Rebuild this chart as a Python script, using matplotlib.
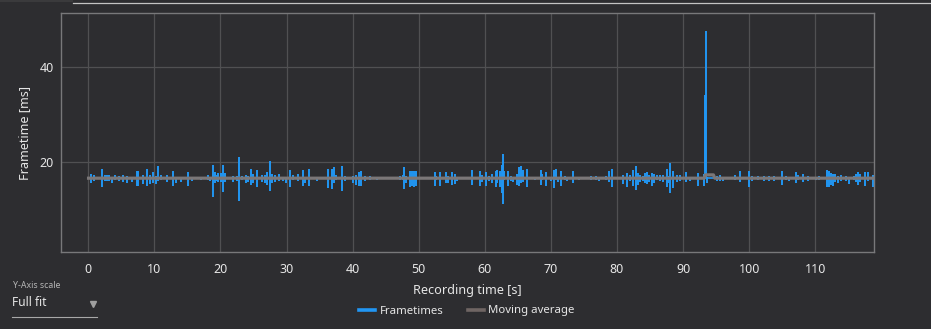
import matplotlib
matplotlib.use("Agg")
import matplotlib.pyplot as plt
from matplotlib.lines import Line2D
from matplotlib.patches import Rectangle

plt.rcParams["font.family"] = ["Noto Sans", "DejaVu Sans"]

# Recording length and typical frametime (60 fps)
rec_start = 0.0
rec_end = 118.9
base_ms = 16.6

# Frame spikes: time [s], longest frame [ms], shortest frame [ms]
spike_t = [
    0.46, 0.86, 2.12, 2.53, 2.78, 3.13, 3.64, 3.99, 4.65, 5.30, 5.81, 6.67,
    7.32, 7.53, 8.23, 8.94, 9.34, 9.85, 10.20, 10.60, 10.96, 11.97, 12.88,
    13.23, 13.99, 15.10, 15.75, 17.02, 18.13, 18.38, 18.93, 19.19, 19.54,
    19.69, 20.05, 20.40, 20.70, 21.96, 22.47, 22.82, 23.22, 23.83, 24.23,
    24.64, 24.99, 25.49, 26.25, 26.76, 27.11, 27.56, 27.87, 28.27, 28.88,
    29.53, 29.89, 30.54, 31.05, 31.70, 32.46, 32.81, 33.42, 34.58, 36.25,
    36.95, 37.21, 37.46, 38.37, 38.87,
    40.13, 40.54, 40.94, 41.29, 41.80, 42.66, 43.67, 47.10, 47.60, 47.85,
    48.11, 48.61, 48.97, 49.27, 49.52, 52.40, 52.65, 53.26, 54.06, 54.42,
    55.02, 55.43, 55.78, 58.00, 59.31,
    59.61, 60.12, 60.63, 61.13, 61.63, 61.89, 62.29, 62.54, 62.75, 62.90,
    63.50, 63.91, 64.31, 64.92, 65.17, 65.42, 65.77, 66.43, 67.54, 68.45,
    68.70, 69.31, 69.96, 70.47, 70.72, 71.07, 71.48, 72.08, 72.49, 73.35,
    74.25, 76.12, 76.78, 77.28, 78.29, 78.80, 79.20,
    80.96, 81.47, 81.98, 82.48, 82.89, 83.24, 83.49, 83.89, 84.25, 84.60,
    84.85, 85.26, 85.61, 86.01, 86.52, 86.92, 87.53, 87.78, 88.08, 88.54,
    89.14, 89.55, 90.40, 91.06, 92.32, 93.18, 93.28, 93.43, 93.68, 95.10,
    95.60, 96.11, 97.88, 98.63,
    100.05, 100.40, 101.31, 102.32, 103.07, 103.83, 104.99, 105.60, 106.10,
    107.11, 107.46, 108.22, 108.88, 110.14, 110.65, 111.75, 112.06, 112.41,
    112.66, 113.02, 113.42, 113.93, 114.68, 115.09, 115.94, 116.20, 116.55,
    116.80, 117.61, 117.96, 118.72,
]
spike_hi = [
    17.54, 17.33, 18.59, 17.2, 17.2, 17.19, 16.9, 17.2, 17.0, 17.19, 17.1, 16.9,
    18.17, 18.17, 17.19, 18.59, 17.19, 17.8, 17.0, 19.22, 17.19, 17.19, 18.17,
    16.9, 16.9, 17.8, 16.9, 16.9, 17.33, 16.9, 19.43, 17.8, 17.33,
    17.7, 17.7, 19.43, 17.7, 17.1, 17.1, 21.05, 17.1, 17.33, 17.1,
    18.52, 17.54, 18.38, 17.33, 17.33, 17.8, 20.27, 17.54, 17.33, 17.54,
    16.9, 16.9, 18.38, 17.33, 17.54, 18.38, 16.9, 18.59, 16.9, 18.59,
    18.59, 18.94, 17.33, 19.22, 16.98,
    16.98, 17.33, 17.89, 18.17, 17.12, 17.12, 16.8, 16.98, 17.33, 18.94,
    17.12, 18.17, 18.17, 18.17, 18.17, 17.82, 16.98, 17.89, 17.89, 17.12,
    17.89, 17.54, 16.8, 18.38, 18.17,
    17.33, 17.89, 17.12, 17.54, 18.17, 18.38, 18.17, 19.43, 21.75, 18.17,
    18.17, 17.12, 16.8, 17.54, 18.87, 19.08, 18.38, 18.59, 16.8, 18.38,
    17.54, 17.89, 16.8, 18.38, 18.59, 16.8, 18.17, 17.12, 16.8, 18.17,
    16.8, 17.12, 17.12, 16.8, 17.12, 18.17, 18.59,
    17.33, 17.68, 17.33, 18.38, 19.22, 17.68, 17.33, 17.12, 17.68, 17.89,
    17.33, 17.68, 17.54, 17.33, 17.33, 17.33, 18.59, 16.98, 19.78, 18.17,
    17.33, 17.33, 17.89, 16.8, 17.68, 17.54, 34.2, 47.6, 16.8, 17.12,
    17.33, 16.8, 17.33, 18.17,
    18.17, 16.98, 16.98, 16.98, 17.12, 16.98, 18.17, 16.98, 16.8,
    17.89, 17.33, 17.54, 17.12, 16.8, 16.98, 18.38, 18.17, 17.68,
    17.54, 17.54, 17.12, 17.33, 16.98, 16.8, 17.12, 17.54, 17.82,
    17.54, 17.89, 17.89, 17.33,
]
spike_lo = [
    15.57, 15.92, 14.65, 16.0, 16.1, 15.92, 15.57, 16.2, 16.0, 15.78, 15.57, 15.78,
    14.86, 14.86, 15.28, 15.0, 15.28, 15.57, 15.28, 15.92, 16.2, 15.78, 14.86,
    15.57, 15.78, 14.86, 15.92, 16.2, 16.2, 15.92, 12.55, 15.57, 16.0,
    15.8, 15.8, 13.6, 15.8, 15.78, 15.92, 11.71, 16.2, 15.57, 15.78,
    15.22, 15.57, 14.73, 15.78, 15.57, 15.22, 13.8, 15.57, 15.78, 15.92,
    15.92, 15.57, 14.73, 16.2, 15.92, 14.86, 15.57, 14.86, 16.06, 14.52,
    14.31, 15.57, 16.2, 13.8, 15.92,
    15.57, 15.22, 14.87, 14.87, 15.92, 16.13, 16.13, 16.13, 16.3, 14.31,
    15.57, 14.73, 14.87, 14.73, 15.01, 15.01, 16.3, 15.01, 15.57, 15.57,
    15.22, 15.43, 15.92, 15.22, 14.87,
    15.78, 15.01, 15.92, 15.57, 14.73, 15.57, 14.73, 13.47, 11.22, 16.2,
    14.87, 15.92, 15.71, 15.22, 14.87, 15.57, 15.78, 14.73, 16.13, 15.22,
    16.2, 15.01, 15.92, 14.52, 16.2, 15.78, 14.87, 16.2, 15.92, 15.57,
    16.13, 16.3, 16.13, 16.06, 16.13, 15.78, 14.73,
    15.43, 14.73, 15.92, 14.87, 14.03, 15.22, 15.71, 15.92, 15.57, 15.43,
    15.71, 15.01, 15.57, 16.2, 15.92, 15.78, 14.73, 15.57, 13.47, 14.52,
    15.78, 15.92, 15.78, 15.92, 15.01, 15.01, 16.6, 16.6, 15.5, 15.92,
    16.06, 15.92, 16.13, 15.78,
    14.73, 15.92, 16.13, 15.92, 15.92, 16.06, 15.08, 16.2, 15.92,
    15.57, 16.2, 15.78, 16.06, 16.13, 16.3, 14.73, 14.73, 15.22,
    15.01, 15.78, 15.57, 15.92, 15.92, 15.43, 16.2, 15.71, 15.22,
    15.78, 14.87, 15.92, 14.73,
]

# Moving average
avg_t = [-0.2, 93.2, 93.4, 94.6, 94.8, 118.9]
avg_ms = [16.6, 16.6, 17.3, 17.3, 16.6, 16.6]

x_ticks = [0, 10, 20, 30, 40, 50, 60, 70, 80, 90, 100, 110]
y_ticks = [20, 40]

bg = "#2d2d30"
blue = "#2196f3"
avg_color = "#7b7778"
text_color = "#e6e6e6"

W, H = 931, 329
fig = plt.figure(figsize=(W / 100, H / 100), dpi=100, facecolor=bg)
ax = fig.add_axes([61 / W, 1 - 252 / H, (874 - 61) / W, (252 - 13) / H])
ax.set_facecolor(bg)

# Frametimes
ax.plot([rec_start, rec_end], [base_ms, base_ms], color=blue, lw=1.2, zorder=2)
ax.vlines(spike_t, spike_lo, spike_hi, color=blue, lw=1.4, zorder=2)
# Moving average on top
ax.plot(avg_t, avg_ms, color=avg_color, lw=2.3, zorder=3, solid_capstyle="butt")

ax.set_xlim(-4.13, 118.9)
ax.set_ylim(1.05, 51.4)
ax.set_xticks(x_ticks)
ax.set_yticks(y_ticks)
ax.grid(True, color="#505052", lw=0.9)
ax.set_axisbelow(True)
ax.tick_params(length=0, colors=text_color, labelsize=9)
ax.tick_params(axis="x", pad=8)
ax.tick_params(axis="y", pad=5)
for s in ax.spines.values():
    s.set_color("#78787a")
    s.set_linewidth(1.0)

ax.set_xlabel("Recording time [s]", color=text_color, fontsize=9.1, labelpad=6)
ax.set_ylabel("Frametime [ms]", color=text_color, fontsize=9.1, labelpad=6)

handles = [
    Line2D([], [], color=blue, lw=2.6),
    Line2D([], [], color="#6f6563", lw=2.6),
]
fig.legend(handles, ["Frametimes", "Moving average"], loc="center",
           bbox_to_anchor=(467 / W, 1 - 311 / H), ncol=2, frameon=False,
           fontsize=8.2, labelcolor=text_color, handlelength=1.4,
           handletextpad=0.35, columnspacing=2.2)

# Y-axis scale selector
fig.text(13 / W, 1 - 285 / H, "Y-Axis scale", color="#b4b4b4", fontsize=6.3,
         va="center", ha="left")
fig.text(12 / W, 1 - 302 / H, "Full fit", color=text_color, fontsize=8.6,
         va="center", ha="left")
fig.add_artist(Line2D([12 / W, 97 / W], [1 - 317 / H, 1 - 317 / H],
                      color="#a8a8a8", lw=0.8))
fig.add_artist(Line2D([93 / W], [1 - 303.5 / H], marker="v", color="#a0a0a0",
                      markersize=4, lw=0))

# Window strip at the top
fig.add_artist(Rectangle((0, 1 - 2 / H), 73 / W, 2 / H, color="#3a3a3c", lw=0))
fig.add_artist(Line2D([73 / W, 1], [1 - 2.5 / H, 1 - 2.5 / H],
                      color="#c4c4c4", lw=0.9))

fig.savefig("out.png", dpi=100, facecolor=bg)
